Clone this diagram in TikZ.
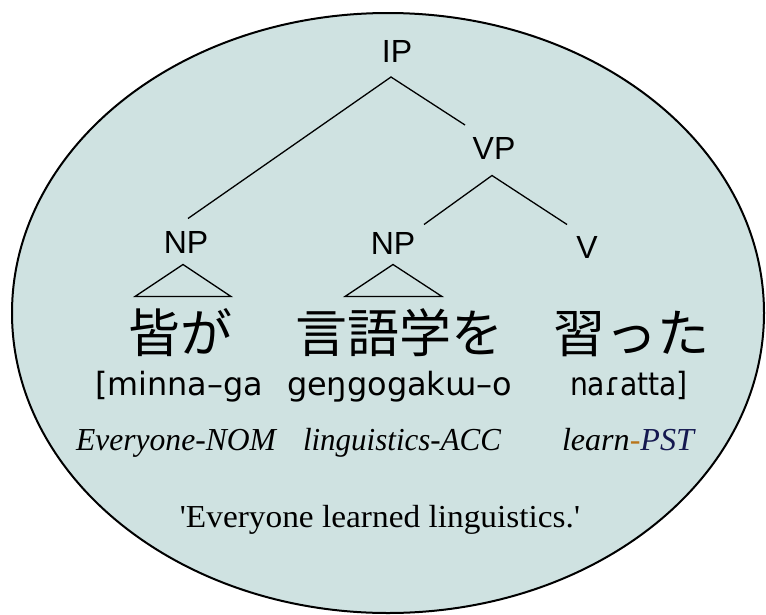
\documentclass[tikz,border=0pt]{standalone}
\usepackage{fontspec}
\setmainfont{Liberation Serif}
\newfontfamily\treefont{Liberation Sans}
\newfontfamily\jpfont{Noto Sans CJK JP}
\newfontfamily\ipafont{DejaVu Sans}
\newfontfamily\trfont[Ligatures=TeXOff]{Liberation Serif}
\newcommand{\fitw}[2]{\resizebox{#1}{\height}{#2}}
\definecolor{bgc}{RGB}{207,226,225}
\definecolor{pstorange}{RGB}{184,116,26}
\definecolor{pstblue}{RGB}{20,24,80}
\tikzset{
  lbl/.style={font=\treefont\fontsize{32}{36}\selectfont, inner sep=0pt, outer sep=0pt},
  branch/.style={line width=1.3pt, line join=miter},
  jp/.style={font=\jpfont\fontsize{52}{60}\selectfont, inner sep=0pt, anchor=base},
  rom/.style={font=\ipafont\fontsize{32}{38}\selectfont, inner sep=0pt, anchor=base},
  gl/.style={font=\itshape\fontsize{32}{38}\selectfont, inner sep=0pt, anchor=base},
  trl/.style={font=\trfont\fontsize{32}{38}\selectfont, inner sep=0pt, anchor=base}
}
\begin{document}
\begin{tikzpicture}[x=1pt,y=-1pt]
\useasboundingbox (0,0) rectangle (766,614);
\fill[white] (0,0) rectangle (766,614);
\draw[line width=2pt, fill=bgc] (388,313) ellipse [x radius=376, y radius=300];

\node[lbl] (IP) at (397,51) {IP};
\node[lbl] (VP) at (494,148) {VP};
\node[lbl] (NP1) at (186,242) {NP};
\node[lbl] (NP2) at (393,243) {NP};
\node[lbl] (V) at (587,247) {V};

\draw[branch] ([shift={(2,-12.5)}]NP1.north) -- ([shift={(-6,15)}]IP.south) -- ([shift={(-29,-12)}]VP.north);
\draw[branch] ([shift={(31,-7.5)}]NP2.north) -- ([shift={(-2,16.5)}]VP.south) -- ([shift={(-20,-11.5)}]V.north);

\draw[branch] ([shift={(-3,11.5)}]NP1.south) -- ++(-48,32) -- ++(96,0) -- cycle;
\draw[branch] ([shift={(0,10.5)}]NP2.south) -- ++(-48,32) -- ++(97,0) -- cycle;

\node[jp] (w1) at (180,352) {皆が};
\node[jp] (w2) at (399.5,352) {言語学を};
\node[jp] (w3) at (631,352) {習った};

\node[rom] (r1) at (179,395) {\fitw{168pt}{[minna–ga}};
\node[rom] (r2) at (399.5,395) {\fitw{225pt}{geŋgogakɯ–o}};
\node[rom] (r3) at (629,395) {\fitw{118pt}{naɾatta]}};

\node[gl] (g1) at (176,450) {\fitw{200pt}{Everyone-NOM}};
\node[gl] (g2) at (402,450) {\fitw{198pt}{linguistics-ACC}};
\node[gl] (g3) at (628,450) {\fitw{132pt}{learn\textcolor{pstorange}{-}\textcolor{pstblue}{PST}}};

\node[trl] (tr) at (380,527) {\fitw{400pt}{'Everyone learned linguistics.'}};
\end{tikzpicture}
\end{document}
